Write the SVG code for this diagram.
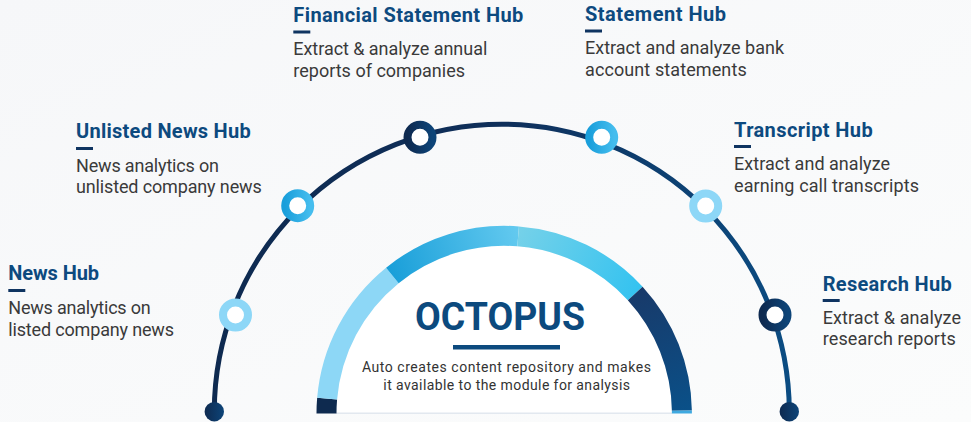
<svg xmlns="http://www.w3.org/2000/svg" width="971" height="422" viewBox="0 0 971 422">
<defs>
<style>
.title{font-family:Roboto,"Liberation Sans",sans-serif;font-weight:700;font-size:20px;fill:#0d4a7f}
.desc{font-family:Roboto,"Liberation Sans",sans-serif;font-size:18px;fill:#3a3a3a}
.bar{fill:#0f3461}
.ring{fill:#ffffff;stroke-width:8}
.sub{font-family:Roboto,"Liberation Sans",sans-serif;font-size:14px;fill:#333333;text-anchor:middle}
.seg{fill:none;stroke-width:20;stroke-linecap:butt}
</style>
<linearGradient id="bg" x1="0" y1="0" x2="1" y2="1">
<stop offset="0" stop-color="#f6f7f9"/>
<stop offset="1" stop-color="#fbfcfc"/>
</linearGradient>
<linearGradient id="arcG" gradientUnits="userSpaceOnUse" x1="214" y1="0" x2="790" y2="0">
<stop offset="0" stop-color="#0e2a50"/>
<stop offset="0.5" stop-color="#0f2f5a"/>
<stop offset="1" stop-color="#0b4c82"/>
</linearGradient>
<linearGradient id="navy" x1="0" y1="0" x2="1" y2="0">
<stop offset="0" stop-color="#0e2a50"/>
<stop offset="1" stop-color="#0d4478"/>
</linearGradient>
<linearGradient id="bright" x1="0" y1="0" x2="1" y2="0">
<stop offset="0" stop-color="#1a9fdb"/>
<stop offset="1" stop-color="#45bdee"/>
</linearGradient>
<linearGradient id="s3" gradientUnits="userSpaceOnUse" x1="392" y1="275" x2="518" y2="236">
<stop offset="0" stop-color="#1a9fd9"/>
<stop offset="1" stop-color="#62c9ef"/>
</linearGradient>
<linearGradient id="s4" gradientUnits="userSpaceOnUse" x1="518" y1="236" x2="635" y2="293">
<stop offset="0" stop-color="#74d1e9"/>
<stop offset="1" stop-color="#35c3f0"/>
</linearGradient>
<linearGradient id="s5" gradientUnits="userSpaceOnUse" x1="635" y1="293" x2="682" y2="411">
<stop offset="0" stop-color="#183a6a"/>
<stop offset="1" stop-color="#0a5088"/>
</linearGradient>
</defs>

<rect x="0" y="0" width="971" height="422" fill="url(#bg)"/>

<g id="connectors">
<path d="M 214.3 411.7 A 287.5 287.5 0 0 1 789.3 411.7" fill="none" stroke="url(#arcG)" stroke-width="5"/>
<circle cx="214.3" cy="411.7" r="9.7" fill="url(#navy)"/>
<circle cx="789.3" cy="411.7" r="9.7" fill="url(#navy)"/>
</g>

<g id="octopus">
<path d="M 336.5 413.5 A 167.7 167.7 0 0 1 671.9 413.5 Z" fill="#ffffff"/>
<line x1="336" y1="413.3" x2="672" y2="413.3" stroke="#e2e8ef" stroke-width="1.5"/>
<path class="seg" d="M 326.5 413.5 A 177.7 177.7 0 0 1 327.12 398.63" stroke="#0e2a4f"/>
<path class="seg" d="M 327.12 398.63 A 177.7 177.7 0 0 1 392.37 275.40" stroke="#8dd7f6"/>
<path class="seg" d="M 392.37 275.40 A 177.7 177.7 0 0 1 518.14 236.35" stroke="url(#s3)"/>
<path class="seg" d="M 518.14 236.35 A 177.7 177.7 0 0 1 635.21 293.45" stroke="url(#s4)"/>
<path class="seg" d="M 635.21 293.45 A 177.7 177.7 0 0 1 681.88 410.71" stroke="url(#s5)"/>
<path class="seg" d="M 681.88 410.71 A 177.7 177.7 0 0 1 681.9 413.5" stroke="#3fa9e0"/>
<text x="500" y="330" text-anchor="middle" font-family="Roboto,'Liberation Sans',sans-serif" font-weight="700" font-size="39" fill="#0c4a7e" textLength="170" lengthAdjust="spacingAndGlyphs">OCTOPUS</text>
<rect x="453" y="345" width="107" height="4.5" fill="#0c4a7e"/>
<text class="sub" x="506.4" y="371.7" textLength="289">Auto creates content repository and makes</text>
<text class="sub" x="506.7" y="390" textLength="246.7">it available to the module for analysis</text>
</g>

<g id="news-hub">
<circle class="ring" cx="235.5" cy="315" r="12.5" stroke="#8dd7f7"/>
<text class="title" x="8.3" y="280" textLength="90.7">News Hub</text>
<rect class="bar" x="8.3" y="289" width="17" height="3"/>
<text class="desc" x="8.3" y="314" textLength="142.4">News analytics on</text>
<text class="desc" x="8.3" y="335.5" textLength="165.7">listed company news</text>
</g>

<g id="unlisted-news-hub">
<circle class="ring" cx="297.7" cy="205.7" r="12.5" stroke="url(#bright)"/>
<text class="title" x="76" y="138.3" textLength="174.7">Unlisted News Hub</text>
<rect class="bar" x="76" y="147" width="17" height="3"/>
<text class="desc" x="76" y="172" textLength="143">News analytics on</text>
<text class="desc" x="76" y="193.3" textLength="185.7">unlisted company news</text>
</g>

<g id="financial-statement-hub">
<circle class="ring" cx="420" cy="137.3" r="12.5" stroke="url(#navy)"/>
<text class="title" x="293.3" y="21.7" textLength="230">Financial Statement Hub</text>
<rect class="bar" x="293.3" y="30.5" width="17" height="3"/>
<text class="desc" x="293.3" y="55" textLength="194">Extract &amp; analyze annual</text>
<text class="desc" x="293.3" y="77" textLength="171.7">reports of companies</text>
</g>

<g id="statement-hub">
<circle class="ring" cx="601.7" cy="137.3" r="12.5" stroke="url(#bright)"/>
<text class="title" x="585" y="20.7" textLength="141">Statement Hub</text>
<rect class="bar" x="585" y="29.5" width="17" height="3"/>
<text class="desc" x="585" y="54.3" textLength="199">Extract and analyze bank</text>
<text class="desc" x="585" y="76" textLength="161.7">account statements</text>
</g>

<g id="transcript-hub">
<circle class="ring" cx="705.7" cy="206" r="12.5" stroke="#8dd7f7"/>
<text class="title" x="734" y="136.7" textLength="138.7">Transcript Hub</text>
<rect class="bar" x="734" y="145" width="17" height="3"/>
<text class="desc" x="734" y="170" textLength="156">Extract and analyze</text>
<text class="desc" x="734" y="191.7" textLength="185">earning call transcripts</text>
</g>

<g id="research-hub">
<circle class="ring" cx="775" cy="315" r="12.5" stroke="url(#navy)"/>
<text class="title" x="822.7" y="290.7" textLength="129">Research Hub</text>
<rect class="bar" x="822.7" y="299" width="17" height="3"/>
<text class="desc" x="822.7" y="324" textLength="138.3">Extract &amp; analyze</text>
<text class="desc" x="822.7" y="345" textLength="133">research reports</text>
</g>
</svg>
